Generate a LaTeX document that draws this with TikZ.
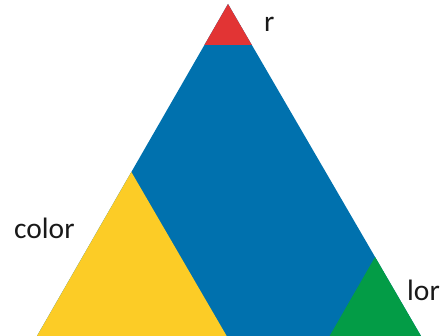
\documentclass[tikz,border=0pt]{standalone}
\usepackage{fontspec}
\setmainfont{Carlito}
\usetikzlibrary{calc}
\definecolor{tred}{RGB}{226,52,52}
\definecolor{tblue}{RGB}{0,113,174}
\definecolor{tyellow}{RGB}{252,204,38}
\definecolor{tgreen}{RGB}{3,156,70}
\begin{document}
\begin{tikzpicture}[x=1pt,y=-1pt,
  lbl/.style={anchor=base west,inner sep=0pt,font=\fontsize{29.5}{31}\selectfont,text=black!90}]
\useasboundingbox (0,0) rectangle (443,336);
\clip (0,0) rectangle (443,336);
\coordinate (A) at (228,4);
\coordinate (BL) at (228-0.5753*340,344);
\coordinate (BR) at (228+0.5813*340,344);
% whole triangle (blue)
\fill[tblue] (A) -- (BL) -- (BR) -- cycle;
% red tip
\fill[tred] (A) -- (228-0.5753*41,45) -- (228+0.5813*41,45) -- cycle;
% yellow corner
\coordinate (Y) at (228-0.5753*168,172);
\fill[tyellow] (Y) -- (BL) -- ($(Y)+(0.5813*172,172)$) -- cycle;
% green corner
\coordinate (G) at (228+0.5813*253,257);
\fill[tgreen] (G) -- ($(G)+(-0.5753*87,87)$) -- (BR) -- cycle;
% labels
\node[lbl] (r) at (264,32) {r};
\node[lbl] (color) at (14,238) {color};
\node[lbl] (lor) at (407,300) {lor};
\end{tikzpicture}
\end{document}
